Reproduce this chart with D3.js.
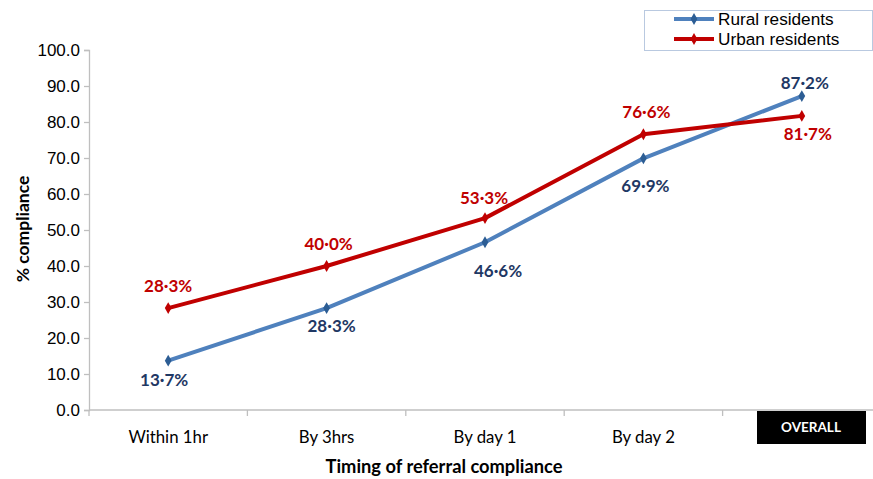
<!DOCTYPE html>
<html>
<head>
<meta charset="utf-8">
<script src="https://cdn.jsdelivr.net/npm/d3@7"></script>
<style>
  body { margin: 0; background: #fff; }
  svg { display: block; }
</style>
</head>
<body>
<div id="chart"></div>
<script>
// data
var categories = ["Within 1hr", "By 3hrs", "By day 1", "By day 2", "OVERALL"];
var rural = [13.7, 28.3, 46.6, 69.9, 87.2];
var urban = [28.3, 40.0, 53.3, 76.6, 81.7];
var yTicks = [0, 10, 20, 30, 40, 50, 60, 70, 80, 90, 100];
var seriesNames = ["Rural residents", "Urban residents"];

// label offsets (px) from each point
var ruralOffsets = [[-4, 25], [5, 24], [13, 35], [2, 34], [3, -7]];
var urbanOffsets = [[0, -16], [2, -16], [-1, -14], [3, -16], [6, 24]];

var w = 873, h = 479;
var plotL = 89, plotR = 881, plotT = 50, plotB = 410;

var svg = d3.select("#chart").append("svg")
  .attr("width", w)
  .attr("height", h);

var x = d3.scaleBand().domain(categories).range([plotL, plotR]);
var y = d3.scaleLinear().domain([0, 100]).range([plotB, plotT]);

var axisColor = "#bfbfbf";

// y axis
var yAxis = svg.append("g")
  .attr("transform", "translate(" + plotL + ",0)")
  .call(d3.axisLeft(y).tickValues(yTicks).tickSize(5).tickPadding(4)
    .tickFormat(d3.format(".1f")));
yAxis.select(".domain").attr("stroke", axisColor).attr("stroke-width", 1.3);
yAxis.selectAll(".tick line").attr("stroke", axisColor).attr("stroke-width", 1.3);
yAxis.selectAll("text")
  .attr("font-family", "Liberation Sans, Arial, sans-serif")
  .attr("font-size", 17)
  .attr("fill", "#000");

// x axis line + ticks at band edges
svg.append("line")
  .attr("x1", plotL).attr("x2", 873)
  .attr("y1", plotB).attr("y2", plotB)
  .attr("stroke", axisColor).attr("stroke-width", 1.3);
svg.selectAll(".xtick")
  .data(categories.slice(0, 4).concat(["end"]))
  .enter().append("line")
  .attr("x1", function(d, i){ return plotL + i * x.bandwidth(); })
  .attr("x2", function(d, i){ return plotL + i * x.bandwidth(); })
  .attr("y1", plotB).attr("y2", plotB + 6)
  .attr("stroke", axisColor).attr("stroke-width", 1.3);

// category labels
svg.selectAll(".cat")
  .data(categories.slice(0, 4))
  .enter().append("text")
  .attr("x", function(d){ return x(d) + x.bandwidth() / 2; })
  .attr("y", 443)
  .attr("text-anchor", "middle")
  .attr("font-family", "Lato, 'Open Sans', sans-serif")
  .attr("font-size", 16.8)
  .attr("fill", "#000")
  .text(function(d){ return d; });

// OVERALL box
var last = categories[4];
svg.append("rect")
  .attr("x", 757)
  .attr("y", 411)
  .attr("width", 109)
  .attr("height", 33)
  .attr("fill", "#000");
svg.append("text")
  .attr("x", 811)
  .attr("y", 432)
  .attr("text-anchor", "middle")
  .attr("font-family", "Lato, 'Open Sans', sans-serif")
  .attr("font-weight", "bold")
  .attr("font-size", 13.5)
  .attr("fill", "#fff")
  .text(last);

// axis titles
svg.append("text")
  .attr("x", 444).attr("y", 473)
  .attr("text-anchor", "middle")
  .attr("font-family", "Lato, 'Open Sans', sans-serif")
  .attr("font-weight", "bold")
  .attr("font-size", 18.3)
  .attr("fill", "#000")
  .text("Timing of referral compliance");

svg.append("text")
  .attr("transform", "translate(29,229) rotate(-90)")
  .attr("text-anchor", "middle")
  .attr("font-family", "Lato, 'Open Sans', sans-serif")
  .attr("font-weight", "bold")
  .attr("font-size", 17.5)
  .attr("fill", "#000")
  .text("% compliance");

// series
var series = [
  { name: seriesNames[0], values: rural, offsets: ruralOffsets, line: "#4f81bd", marker: "#2c5d94", label: "#1f3864" },
  { name: seriesNames[1], values: urban, offsets: urbanOffsets, line: "#c00000", marker: "#c00000", label: "#c00000" }
];

var line = d3.line()
  .x(function(d, i){ return x(categories[i]) + x.bandwidth() / 2; })
  .y(function(d){ return y(d); });

var diamond = d3.symbol().type(d3.symbolDiamond).size(40);
var fmt = function(v){ return v.toFixed(1).replace(".", "\u00b7") + "%"; };

series.forEach(function(s){
  svg.append("path")
    .datum(s.values)
    .attr("d", line)
    .attr("fill", "none")
    .attr("stroke", s.line)
    .attr("stroke-width", 4)
    .attr("stroke-linejoin", "round");

  svg.selectAll(null)
    .data(s.values)
    .enter().append("path")
    .attr("d", diamond)
    .attr("transform", function(d, i){
      return "translate(" + (x(categories[i]) + x.bandwidth() / 2) + "," + y(d) + ")";
    })
    .attr("fill", s.marker);

  svg.selectAll(null)
    .data(s.values)
    .enter().append("text")
    .attr("x", function(d, i){ return x(categories[i]) + x.bandwidth() / 2 + s.offsets[i][0]; })
    .attr("y", function(d, i){ return y(d) + s.offsets[i][1]; })
    .attr("text-anchor", "middle")
    .attr("font-family", "Lato, 'Open Sans', sans-serif")
    .attr("font-weight", "bold")
    .attr("font-size", 17)
    .attr("fill", s.label)
    .text(fmt);
});

// legend
var legend = svg.append("g");
legend.append("rect")
  .attr("x", 644.5).attr("y", 10.5)
  .attr("width", 228).attr("height", 40)
  .attr("fill", "#fff")
  .attr("stroke", "#b9c9e0")
  .attr("stroke-width", 1);

series.forEach(function(s, i){
  var ly = 19 + i * 20;
  legend.append("line")
    .attr("x1", 674).attr("x2", 714)
    .attr("y1", ly).attr("y2", ly)
    .attr("stroke", s.line).attr("stroke-width", 4);
  legend.append("path")
    .attr("d", diamond)
    .attr("transform", "translate(694," + ly + ")")
    .attr("fill", s.marker);
  legend.append("text")
    .attr("x", 718).attr("y", ly + 6)
    .attr("font-family", "Liberation Sans, Arial, sans-serif")
    .attr("font-size", 17.2)
    .attr("fill", "#000")
    .text(s.name);
});
</script>
</body>
</html>
